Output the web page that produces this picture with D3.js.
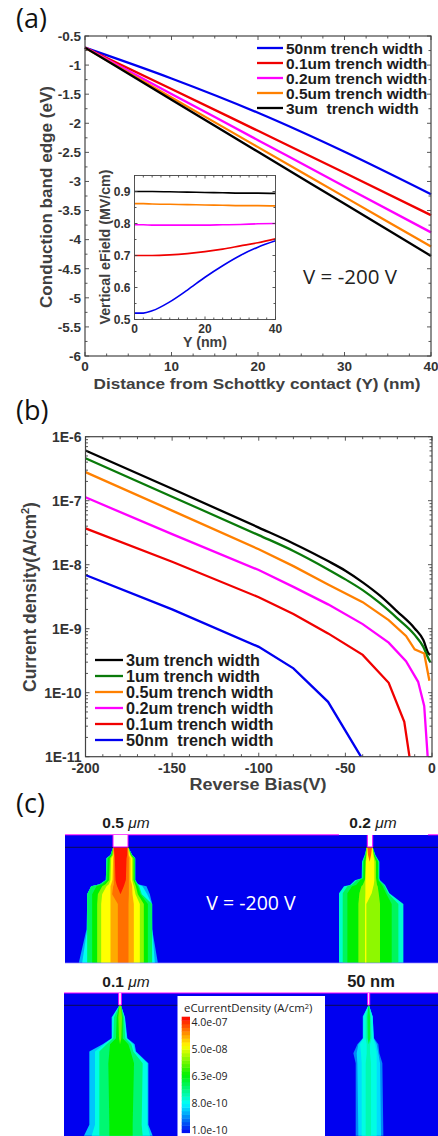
<!DOCTYPE html>
<html>
<head>
<meta charset="utf-8">
<script src="https://cdn.jsdelivr.net/npm/d3@7"></script>
<style>
html, body { margin: 0; padding: 0; background: #fff; }
svg { display: block; }
text { font-family: "Liberation Sans", sans-serif; }
.tick-label { font-weight: bold; fill: #333; }
.axis-title { font-weight: bold; fill: #404040; }
.legend-text { font-weight: bold; fill: #1c1c1c; white-space: pre; }
.panel-label { font-family: "Open Sans", sans-serif; fill: #111; }
.note { font-family: "Open Sans", sans-serif; }
</style>
</head>
<body>
<svg id="chart" width="438" height="1136"></svg>
<script>
// ---- panel (a): conduction band edge
const bandY = [0, 10, 20, 30, 40]
const band50nm = [-0.7, -1.23, -1.82, -2.49, -3.22]
const band01um = [-0.7, -1.41, -2.13, -2.85, -3.58]
const band02um = [-0.7, -1.495, -2.29, -3.085, -3.875]
const band05um = [-0.7, -1.555, -2.41, -3.265, -4.12]
const band3um = [-0.7, -1.595, -2.49, -3.385, -4.28]
const bandYTicks = [-0.5, -1, -1.5, -2, -2.5, -3, -3.5, -4, -4.5, -5, -5.5, -6]
const bandXTicks = [0, 10, 20, 30, 40]
const bandLegend = ["50nm trench width", "0.1um trench width", "0.2um trench width", "0.5um trench width", "3um  trench width"]

// ---- inset of (a): vertical field
const fieldY = [0, 2.5, 5, 10, 15, 20, 25, 30, 35, 40]
const field50nm = [0.52, 0.52, 0.527, 0.555, 0.592, 0.632, 0.668, 0.70, 0.726, 0.746]
const field01um = [0.70, 0.70, 0.70, 0.702, 0.706, 0.712, 0.72, 0.73, 0.74, 0.752]
const field02um = [0.796, 0.796, 0.795, 0.795, 0.795, 0.795, 0.796, 0.797, 0.799, 0.80]
const field05um = [0.862, 0.862, 0.861, 0.86, 0.859, 0.858, 0.857, 0.856, 0.856, 0.855]
const field3um = [0.90, 0.90, 0.90, 0.899, 0.898, 0.897, 0.896, 0.895, 0.895, 0.894]
const fieldYTicks = [0.5, 0.6, 0.7, 0.8, 0.9]
const fieldXTicks = [0, 20, 40]

// ---- panel (b): current density, each curve has its own bias points
const bias3um = [-200, -150, -100, -80, -60, -50, -40, -30, -20, -10, -5, -2, -1]
const current3um = [6.1e-7, 1.54e-7, 3.8e-8, 2.15e-8, 1.14e-8, 8.05e-9, 5.3e-9, 3.28e-9, 1.85e-9, 1.01e-9, 6.65e-10, 4.1e-10, 3.9e-10]
const bias1um = [-200, -150, -100, -80, -60, -50, -40, -30, -20, -10, -5, -2, -1]
const current1um = [4.6e-7, 1.155e-7, 2.9e-8, 1.64e-8, 8.45e-9, 5.9e-9, 4.0e-9, 2.5e-9, 1.45e-9, 8e-10, 5.2e-10, 3.4e-10, 3e-10]
const bias05um = [-200, -150, -100, -80, -60, -40, -25, -15, -10, -4.5, -1.5]
const current05um = [2.8e-7, 7.0e-8, 1.74e-8, 9.5e-9, 4.9e-9, 2.6e-9, 1.36e-9, 7.7e-10, 4.75e-10, 4.1e-10, 1.54e-10]
const bias02um = [-200, -150, -100, -80, -60, -40, -25, -15, -8, -4.5, -2.5]
const current02um = [1.13e-7, 3.0e-8, 8.25e-9, 4.5e-9, 2.4e-9, 1.18e-9, 6.05e-10, 3.1e-10, 1.48e-10, 6.2e-11, 1e-11]
const bias01um = [-200, -150, -100, -80, -60, -40, -25, -16, -13]
const current01um = [3.7e-8, 1.11e-8, 3.1e-9, 1.7e-9, 8.45e-10, 3.9e-10, 1.43e-10, 3.5e-11, 1e-11]
const bias50nm = [-200, -150, -100, -80, -60, -41]
const current50nm = [6.9e-9, 2.0e-9, 5.2e-10, 2.4e-10, 7.2e-11, 1e-11]
const biasTicks = [-200, -150, -100, -50, 0]
const currentTicks = [1e-6, 1e-7, 1e-8, 1e-9, 1e-10, 1e-11]
const currentTickLabels = ["1E-6", "1E-7", "1E-8", "1E-9", "1E-10", "1E-11"]
const currentLegend = ["3um trench width", "1um trench width", "0.5um trench width", "0.2um trench width", "0.1um trench width", "50nm  trench width"]

// ---- panel (c): current density plumes. Lateral and depth values are in mesh
// cells (90 cells per um), each band is [current density, left edge, right edge]
const colorbarStops = [1e-10, 8e-10, 6.3e-9, 5e-8, 4e-7]
const colorbarLabels = ["4.0e-07", "5.0e-08", "6.3e-09", "8.0e-10", "1.0e-10"]

const depth05um = [67, 90, 100, 165, 178, 184, 208, 237, 313, 413]
const bands05um = [
    [4e-10, [158, 150, 138, 136, 118, 92, 80, 80, 78, 55], [203, 215, 224, 224, 232, 258, 268, 275, 275, 292]],
    [9e-10, [158, 150, 138, 136, 118, 92, 80, 80, 80, 65], [203, 215, 224, 224, 232, 246, 260, 274, 275, 283]],
    [3e-9, [158, 150, 138, 136, 118, 92, 80, 80, 80, 80], [203, 215, 224, 224, 232, 236, 244, 275, 275, 275]],
    [6.3e-9, [158, 152, 142, 140, 125, 108, 95, 95, 95, 95], [203, 213, 222, 222, 228, 232, 240, 262, 262, 262]],
    [2e-8, [158, 155, 148, 146, 135, 125, 112, 110, 110, 110], [203, 211, 219, 219, 224, 226, 232, 250, 250, 250]],
    [5e-8, [158, 158, 152, 150, 145, 138, 125, 122, 122, 122], [203, 209, 215, 215, 218, 220, 225, 238, 238, 238]],
    [1e-7, [158, 160, 158, 156, 152, 150, 150, 150, 150, 150], [203, 205, 210, 210, 214, 215, 216, 220, 220, 220]],
    [1.6e-7, [158, 160, 160, 160, 160, 158, 155, 172, 172, 172], [203, 203, 205, 205, 205, 205, 205, 204, 204, 204]],
    [3.4e-7, [160, 162, 163, 165, 168, 170, 180, 180, 180, 180], [200, 200, 198, 196, 192, 190, 180, 180, 180, 180]]
]

const depth02um = [67, 90, 110, 160, 166, 180, 184, 205, 237, 413]
const bands02um = [
    [1.2e-9, [110, 104, 96, 95, 75, 60, 42, 27, 27, 27], [128, 136, 148, 148, 150, 165, 167, 178, 220, 220]],
    [3e-9, [110, 105, 98, 97, 80, 65, 52, 38, 38, 38], [128, 135, 146, 146, 148, 162, 164, 174, 205, 205]],
    [6.3e-9, [110, 107, 101, 100, 90, 78, 66, 52, 52, 52], [128, 133, 144, 144, 145, 156, 158, 168, 185, 185]],
    [2e-8, [110, 109, 106, 106, 104, 98, 94, 88, 85, 85], [128, 131, 138, 138, 139, 141, 143, 146, 150, 150]],
    [5e-8, [110, 110, 108, 106, 106, 106, 106, 106, 105, 105], [128, 130, 133, 133, 133, 131, 130, 125, 109, 109]],
    [1.8e-7, [112, 114, 119, 119, 119, 119, 119, 119, 119, 119], [126, 123, 119, 119, 119, 119, 119, 119, 119, 119]]
]

const depth01um = [62, 97, 160, 178, 200, 235, 420, 453]
const bands01um = [
    [5e-10, [178, 155, 155, 128, 88, 88, 88, 72], [183, 195, 202, 224, 228, 265, 265, 278]],
    [1e-9, [178, 157, 156, 132, 105, 105, 105, 95], [183, 194, 200, 220, 226, 262, 262, 270]],
    [2.5e-9, [178, 162, 160, 140, 118, 118, 118, 118], [183, 192, 196, 214, 220, 248, 245, 248]],
    [6.3e-9, [178, 170, 168, 150, 148, 145, 148, 148], [183, 188, 188, 205, 212, 222, 218, 218]],
    [1.6e-8, [178, 175, 177, 180, 180, 180, 180, 180], [183, 186, 184, 180, 180, 180, 180, 180]]
]

const depth50nm = [62, 95, 160, 178, 205, 235, 453]
const bands50nm = [
    [3e-10, [130, 113, 113, 97, 85, 92, 92], [132, 143, 147, 160, 163, 172, 175]],
    [6e-10, [130, 114, 114, 100, 95, 97, 100], [132, 143, 146, 155, 160, 165, 168]],
    [1e-9, [130, 116, 115, 105, 108, 110, 110], [132, 142, 145, 150, 155, 155, 155]],
    [1.5e-9, [130, 122, 122, 125, 125, 122, 122], [132, 138, 140, 135, 135, 138, 138]],
    [4e-9, [130, 127, 128, 131, 131, 131, 131], [132, 135, 136, 131, 131, 131, 131]]
]

const blue = "#0000f0", red = "#f00000", magenta = "#ff00ff", orange = "#ff8000", black = "#000000", green = "#0a7a0a"

const svg = d3.select("#chart")
const tickColor = "#444"

// box, inward ticks on all four sides
function draw_box(g, x, y, opt) {
    let [x0, x1] = x.range()
    let [y0, y1] = y.range()
    let len = opt.tick, minor = opt.minor

    g.append("rect").attr("x", x0).attr("y", y1)
        .attr("width", x1 - x0).attr("height", y0 - y1)
        .attr("fill", "none").attr("stroke", tickColor).attr("stroke-width", opt.box)

    let xTicks = opt.xTicks.map(d => [d, len]).concat((opt.xMinor || []).map(d => [d, minor]))
    let yTicks = opt.yTicks.map(d => [d, len]).concat((opt.yMinor || []).map(d => [d, minor]))

    g.selectAll("line.xt").data(xTicks).enter().append("line")
        .attr("x1", d => x(d[0])).attr("x2", d => x(d[0]))
        .attr("y1", y0).attr("y2", d => y0 - d[1]).attr("stroke", tickColor).attr("stroke-width", 0.9)
    g.selectAll("line.xb").data(xTicks).enter().append("line")
        .attr("x1", d => x(d[0])).attr("x2", d => x(d[0]))
        .attr("y1", y1).attr("y2", d => y1 + d[1]).attr("stroke", tickColor).attr("stroke-width", 0.9)
    g.selectAll("line.yl").data(yTicks).enter().append("line")
        .attr("y1", d => y(d[0])).attr("y2", d => y(d[0]))
        .attr("x1", x0).attr("x2", d => x0 + d[1]).attr("stroke", tickColor).attr("stroke-width", 0.9)
    g.selectAll("line.yr").data(yTicks).enter().append("line")
        .attr("y1", d => y(d[0])).attr("y2", d => y(d[0]))
        .attr("x1", x1).attr("x2", d => x1 - d[1]).attr("stroke", tickColor).attr("stroke-width", 0.9)

    g.selectAll("text.xl").data(opt.xTicks).enter().append("text")
        .attr("class", "tick-label").attr("x", d => x(d)).attr("y", opt.xLabelY)
        .attr("text-anchor", "middle").attr("font-size", opt.font).text(d => d)
    g.selectAll("text.yl").data(opt.yTicks).enter().append("text")
        .attr("class", "tick-label").attr("x", x0 - opt.yLabelGap).attr("y", d => y(d) + opt.font * 0.36)
        .attr("text-anchor", "end").attr("font-size", opt.font)
        .text((d, i) => opt.yFormat ? opt.yFormat(d, i) : d)
}

function draw_title_x(txt, x, y, size, width) {
    svg.append("text").attr("class", "axis-title").attr("x", x).attr("y", y)
        .attr("text-anchor", "middle").attr("font-size", size)
        .attr("textLength", width).attr("lengthAdjust", "spacingAndGlyphs").text(txt)
}

function draw_title_y(x, y, size) {
    return svg.append("text").attr("class", "axis-title")
        .attr("transform", `translate(${x},${y}) rotate(-90)`)
        .attr("text-anchor", "middle").attr("font-size", size)
}

function draw_panel_a() {
    let x = d3.scaleLinear().domain([0, 40]).range([85, 431])
    let y = d3.scaleLinear().domain([-6, -0.5]).range([356, 36])
    let g = svg.append("g")

    let series = [
        [band50nm, blue], [band01um, red], [band02um, magenta], [band05um, orange], [band3um, black]
    ]
    let line = d3.line().x((d, i) => x(bandY[i])).y(d => y(d)).curve(d3.curveMonotoneX)
    g.selectAll("path.band").data(series).enter().append("path")
        .attr("d", d => line(d[0])).attr("fill", "none")
        .attr("stroke", d => d[1]).attr("stroke-width", 2.3)

    draw_box(g, x, y, {
        xTicks: bandXTicks, yTicks: bandYTicks,
        xMinor: d3.range(0, 40.1, 2.5).filter(d => d % 10 !== 0),
        yMinor: d3.range(-5.75, -0.5, 0.5),
        tick: 4, minor: 2.5, font: 13.5, box: 1.2, xLabelY: 370.5, yLabelGap: 4
    })

    // legend
    let ly = d3.scalePoint().domain(bandLegend).range([48, 108])
    bandLegend.forEach((d, i) => {
        g.append("line").attr("x1", 257).attr("x2", 283).attr("y1", ly(d)).attr("y2", ly(d))
            .attr("stroke", series[i][1]).attr("stroke-width", 2.3)
        g.append("text").attr("class", "legend-text").attr("x", 286).attr("y", ly(d) + 5.5)
            .attr("font-size", 15.5).text(d)
    })

    svg.append("text").attr("class", "note").attr("x", 350).attr("y", 284)
        .attr("text-anchor", "middle").attr("font-size", 20.5).attr("fill", "#222").text("V = -200 V")

    draw_title_x("Distance from Schottky contact (Y) (nm)", 257, 388.5, 15.5, 327)
    draw_title_y(52, 197, 17).attr("textLength", 222).attr("lengthAdjust", "spacingAndGlyphs")
        .text("Conduction band edge (eV)")
}

function draw_inset() {
    let x = d3.scaleLinear().domain([0, 40]).range([134.5, 275.5])
    let y = d3.scaleLinear().domain([0.5, 0.95]).range([319.5, 175.5])
    let g = svg.append("g")

    let series = [
        [field50nm, blue], [field01um, red], [field02um, magenta], [field05um, orange], [field3um, black]
    ]
    let line = d3.line().x((d, i) => x(fieldY[i])).y(d => y(d)).curve(d3.curveMonotoneX)
    g.selectAll("path.field").data(series).enter().append("path")
        .attr("d", d => line(d[0])).attr("fill", "none")
        .attr("stroke", d => d[1]).attr("stroke-width", 1.6)

    draw_box(g, x, y, {
        xTicks: fieldXTicks, yTicks: fieldYTicks,
        xMinor: d3.range(0, 40.1, 2.5).filter(d => d % 20 !== 0),
        yMinor: d3.range(0.55, 0.95, 0.1),
        tick: 3, minor: 2, font: 12, box: 0.9, xLabelY: 333, yLabelGap: 4,
        yFormat: d => d.toFixed(1)
    })

    draw_title_x("Y (nm)", 205, 347, 14, 44)
    draw_title_y(110, 247, 14).attr("textLength", 155).attr("lengthAdjust", "spacingAndGlyphs")
        .text("Vertical eField (MV/cm)")
}

function draw_panel_b() {
    let x = d3.scaleLinear().domain([-200, 0]).range([85.5, 432])
    let y = d3.scaleLog().domain([1e-11, 1e-6]).range([756.7, 436.7])
    let g = svg.append("g")

    let series = [
        [bias3um, current3um, black, d3.curveMonotoneX], [bias1um, current1um, green, d3.curveMonotoneX],
        [bias05um, current05um, orange, d3.curveLinear], [bias02um, current02um, magenta, d3.curveLinear],
        [bias01um, current01um, red, d3.curveLinear], [bias50nm, current50nm, blue, d3.curveLinear]
    ]
    g.selectAll("path.current").data(series).enter().append("path")
        .attr("d", d => d3.line().x(p => x(p[0])).y(p => y(p[1])).curve(d[3])(d3.zip(d[0], d[1])))
        .attr("fill", "none").attr("stroke", d => d[2]).attr("stroke-width", 2.3)

    let logMinor = []
    currentTicks.slice(1).forEach(t => d3.range(2, 10).forEach(m => logMinor.push(t * m)))

    draw_box(g, x, y, {
        xTicks: biasTicks, yTicks: currentTicks,
        xMinor: d3.range(-190, 0, 10).filter(d => d % 50 !== 0),
        yMinor: logMinor,
        tick: 4, minor: 2.5, font: 14, box: 1.2, xLabelY: 773, yLabelGap: 4,
        yFormat: (d, i) => currentTickLabels[i]
    })

    let ly = d3.scalePoint().domain(currentLegend).range([660, 740])
    currentLegend.forEach((d, i) => {
        g.append("line").attr("x1", 95).attr("x2", 123).attr("y1", ly(d)).attr("y2", ly(d))
            .attr("stroke", series[i][2]).attr("stroke-width", 2.3)
        g.append("text").attr("class", "legend-text").attr("x", 126).attr("y", ly(d) + 5.5)
            .attr("font-size", 16.2).text(d)
    })

    draw_title_x("Reverse Bias(V)", 258, 790, 16, 137)
    let t = draw_title_y(35.5, 597, 17.5)
    t.append("tspan").text("Current density(A/cm")
    t.append("tspan").attr("font-size", 11).attr("dy", -7).text("2")
    t.append("tspan").attr("dy", 7).text(")")
}

// plumes of one field panel
function draw_plumes(defs, color) {
    defs.forEach(p => {
        let x = d3.scaleLinear().domain([p.centre, p.centre + 90]).range([p.cx, p.cx + 30])
        let y = d3.scaleLinear().domain([p.depth[0], p.depth[0] + 90]).range([p.top, p.top + 30])
        let area = d3.area()
            .y((d, i) => y(p.depth[i]))
            .x0(d => x(d[0]))
            .x1(d => x(d[1]))
        p.g.selectAll("path.band").data(p.bands).enter().append("path")
            .attr("d", d => area(d3.zip(d[1], d[2])))
            .attr("fill", d => color(d[0]))
    })
}

function draw_trench(g, x0, x1, yA, yB) {
    g.append("rect").attr("x", x0).attr("y", yA).attr("width", x1 - x0).attr("height", yB - yA).attr("fill", "#fff")
    g.append("path").attr("d", `M${x0},${yA}V${yB}H${x1}V${yA}`)
        .attr("fill", "none").attr("stroke", magenta).attr("stroke-width", 1)
}

function draw_panel_c() {
    let color = d3.scaleLog().domain(colorbarStops)
        .range(["#0000f0", "#00ffff", "#00f000", "#ffff00", "#ff0000"])

    let defs = svg.append("defs")
    defs.append("filter").attr("id", "soft").append("feGaussianBlur").attr("stdDeviation", 0.7)
    defs.append("clipPath").attr("id", "top-clip").append("rect")
        .attr("x", 65).attr("y", 847).attr("width", 373).attr("height", 116)
    defs.append("clipPath").attr("id", "bot-clip").append("rect")
        .attr("x", 64).attr("y", 1005).attr("width", 374).attr("height", 131)

    // upper field: 0.5 um and 0.2 um
    svg.append("rect").attr("x", 65).attr("y", 835).attr("width", 373).attr("height", 128).attr("fill", "#0000f0")
    let top = svg.append("g").attr("clip-path", "url(#top-clip)").append("g").attr("filter", "url(#soft)")
    draw_plumes([
        { g: top.append("g"), centre: 180, cx: 120.5, top: 847.3, depth: depth05um, bands: bands05um },
        { g: top.append("g"), centre: 119, cx: 369.7, top: 847.3, depth: depth02um, bands: bands02um }
    ], color)

    // lower field: 0.1 um and 50 nm
    svg.append("rect").attr("x", 64).attr("y", 993).attr("width", 374).attr("height", 143).attr("fill", "#0000f0").lower()
    let bot = svg.append("g").attr("clip-path", "url(#bot-clip)").append("g").attr("filter", "url(#soft)")
    draw_plumes([
        { g: bot.append("g"), centre: 180, cx: 120, top: 1005.5, depth: depth01um, bands: bands01um },
        { g: bot.append("g"), centre: 131, cx: 368.7, top: 1005.5, depth: depth50nm, bands: bands50nm }
    ], color)

    let marks = svg.append("g")
    marks.append("line").attr("x1", 65).attr("x2", 438).attr("y1", 847.3).attr("y2", 847.3).attr("stroke", "#111").attr("stroke-width", 0.7)
    marks.append("line").attr("x1", 64).attr("x2", 438).attr("y1", 1005.3).attr("y2", 1005.3).attr("stroke", "#111").attr("stroke-width", 0.7)
    marks.append("line").attr("x1", 65).attr("x2", 339).attr("y1", 834.8).attr("y2", 834.8).attr("stroke", magenta).attr("stroke-width", 1)
    marks.append("line").attr("x1", 428).attr("x2", 438).attr("y1", 834.8).attr("y2", 834.8).attr("stroke", magenta).attr("stroke-width", 1)
    marks.append("line").attr("x1", 64).attr("x2", 438).attr("y1", 993).attr("y2", 993).attr("stroke", magenta).attr("stroke-width", 1)
    marks.append("line").attr("x1", 65).attr("x2", 438).attr("y1", 963).attr("y2", 963).attr("stroke", "#9a8cff").attr("stroke-width", 0.7)

    draw_trench(marks, 113, 128, 835, 847)
    draw_trench(marks, 367.3, 372.7, 835, 847)
    draw_trench(marks, 118.7, 121.3, 993, 1005)
    draw_trench(marks, 367.7, 369.7, 993, 1005)

    let labels = [["0.5 ", "\u03bcm", 126, 828], ["0.2 ", "\u03bcm", 373, 828], ["0.1 ", "\u03bcm", 126, 987]]
    labels.forEach(d => {
        let t = marks.append("text").attr("class", "legend-text").attr("x", d[2]).attr("y", d[3])
            .attr("text-anchor", "middle").attr("font-size", 15.5)
        t.append("tspan").text(d[0])
        t.append("tspan").attr("font-style", "italic").attr("font-weight", "normal").text(d[1])
    })
    marks.append("text").attr("class", "legend-text").attr("x", 371).attr("y", 987)
        .attr("text-anchor", "middle").attr("font-size", 16.5).text("50 nm")

    marks.append("text").attr("class", "note").attr("x", 251).attr("y", 910)
        .attr("text-anchor", "middle").attr("font-size", 19.5).attr("fill", "#fff").text("V = -200 V")

    // colour legend
    marks.append("rect").attr("x", 177.5).attr("y", 996).attr("width", 147.5).attr("height", 140).attr("fill", "#fff")
    let title = marks.append("text").attr("class", "note").attr("x", 184).attr("y", 1012).attr("font-size", 11.4).attr("fill", "#222")
    title.append("tspan").text("eCurrentDensity (A/cm")
    title.append("tspan").attr("font-size", 7.5).attr("dy", -3.5).text("2")
    title.append("tspan").attr("dy", 3.5).text(")")

    let barY = d3.scaleLog().domain([1e-10, 4e-7]).range([1132.7, 1016.7])
    let stepValue = d3.scaleLog().domain([1e-10, 4e-7]).range([0, 32])
    marks.selectAll("rect.step").data(d3.range(32)).enter().append("rect")
        .attr("x", 181.7).attr("width", 8.3)
        .attr("y", d => barY(stepValue.invert(d + 1)))
        .attr("height", d => barY(stepValue.invert(d)) - barY(stepValue.invert(d + 1)) + 0.4)
        .attr("fill", d => color(stepValue.invert(d + 0.5)))

    let labelY = d3.scalePoint().domain(colorbarLabels).range([1021.7, 1130])
    marks.selectAll("text.bar").data(colorbarLabels).enter().append("text")
        .attr("class", "note").attr("x", 191.5).attr("y", d => labelY(d) + 3.8)
        .attr("font-size", 10.5).attr("fill", "#222").text(d => d)
}

function draw_panel_labels() {
    let labels = [["(a)", 16, 28], ["(b)", 16, 420], ["(c)", 16, 813]]
    svg.selectAll("text.panel").data(labels).enter().append("text")
        .attr("class", "panel-label").attr("x", d => d[1]).attr("y", d => d[2])
        .attr("font-size", 27).text(d => d[0])
}

draw_panel_a()
draw_inset()
draw_panel_b()
draw_panel_c()
draw_panel_labels()
</script>
</body>
</html>
